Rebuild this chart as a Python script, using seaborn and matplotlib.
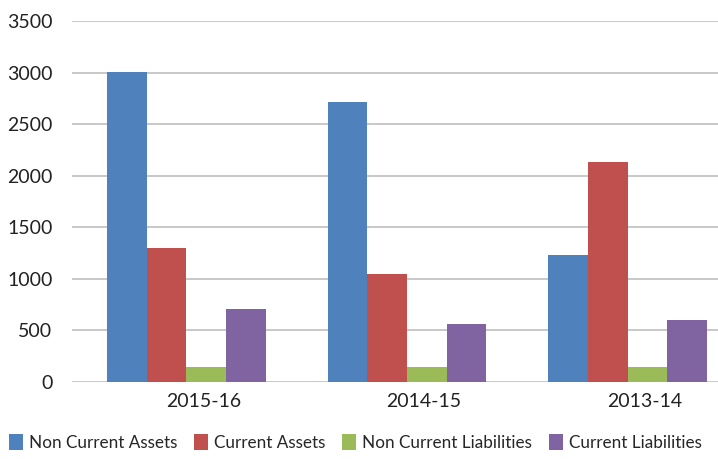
import matplotlib
matplotlib.use("Agg")
import matplotlib.pyplot as plt
import matplotlib.transforms as mtransforms
import seaborn as sns
import pandas as pd

# chart values
years = ["2015-16", "2014-15", "2013-14"]
series = ["Non Current Assets", "Current Assets", "Non Current Liabilities", "Current Liabilities"]
non_current_assets = [3010, 2715, 1230]
current_assets = [1300, 1047, 2133]
non_current_liabilities = [145, 145, 145]
current_liabilities = [708, 562, 601]
colors = ["#4F81BD", "#C0504D", "#9BBB59", "#8064A2"]

df = pd.DataFrame({
    "year": years * 4,
    "series": [s for s in series for _ in years],
    "value": non_current_assets + current_assets + non_current_liabilities + current_liabilities,
})

sns.set_theme(style="white")
plt.rcParams["font.family"] = ["Lato", "DejaVu Sans"]

fig = plt.figure(figsize=(7.18, 4.59), dpi=100)
ax = fig.add_axes([0.1, 0.168, 0.9, 0.786])

sns.barplot(data=df, x="year", y="value", hue="series", order=years, hue_order=series,
            palette=colors, width=0.72, gap=0, saturation=1, linewidth=0, ax=ax, legend=True)

ax.set_ylim(0, 3500)
ax.set_xlim(-0.52, 2.41)
ax.set_yticks(range(0, 3501, 500))
ax.yaxis.grid(True, color="#BFBFBF", linewidth=1.2)
ax.set_axisbelow(True)
for s in ax.spines.values():
    s.set_visible(False)
ax.set_xlabel("")
ax.set_ylabel("")
ax.tick_params(axis="both", length=0, labelsize=14, colors="#222222")
ax.tick_params(axis="y", pad=14)
ax.tick_params(axis="x", pad=8)

shift = mtransforms.ScaledTranslation(17 / 100, 0, fig.dpi_scale_trans)
for lab in ax.get_xticklabels():
    lab.set_transform(lab.get_transform() + shift)

handles, labels = ax.get_legend_handles_labels()
ax.get_legend().remove()
fig.legend(handles, labels, loc="lower left", bbox_to_anchor=(-0.004, -0.008), ncol=4,
           frameon=False, fontsize=12.3, handlelength=0.8, handleheight=1.1,
           handletextpad=0.35, columnspacing=1.0, borderaxespad=0.3)

fig.savefig("out.png", dpi=100)
